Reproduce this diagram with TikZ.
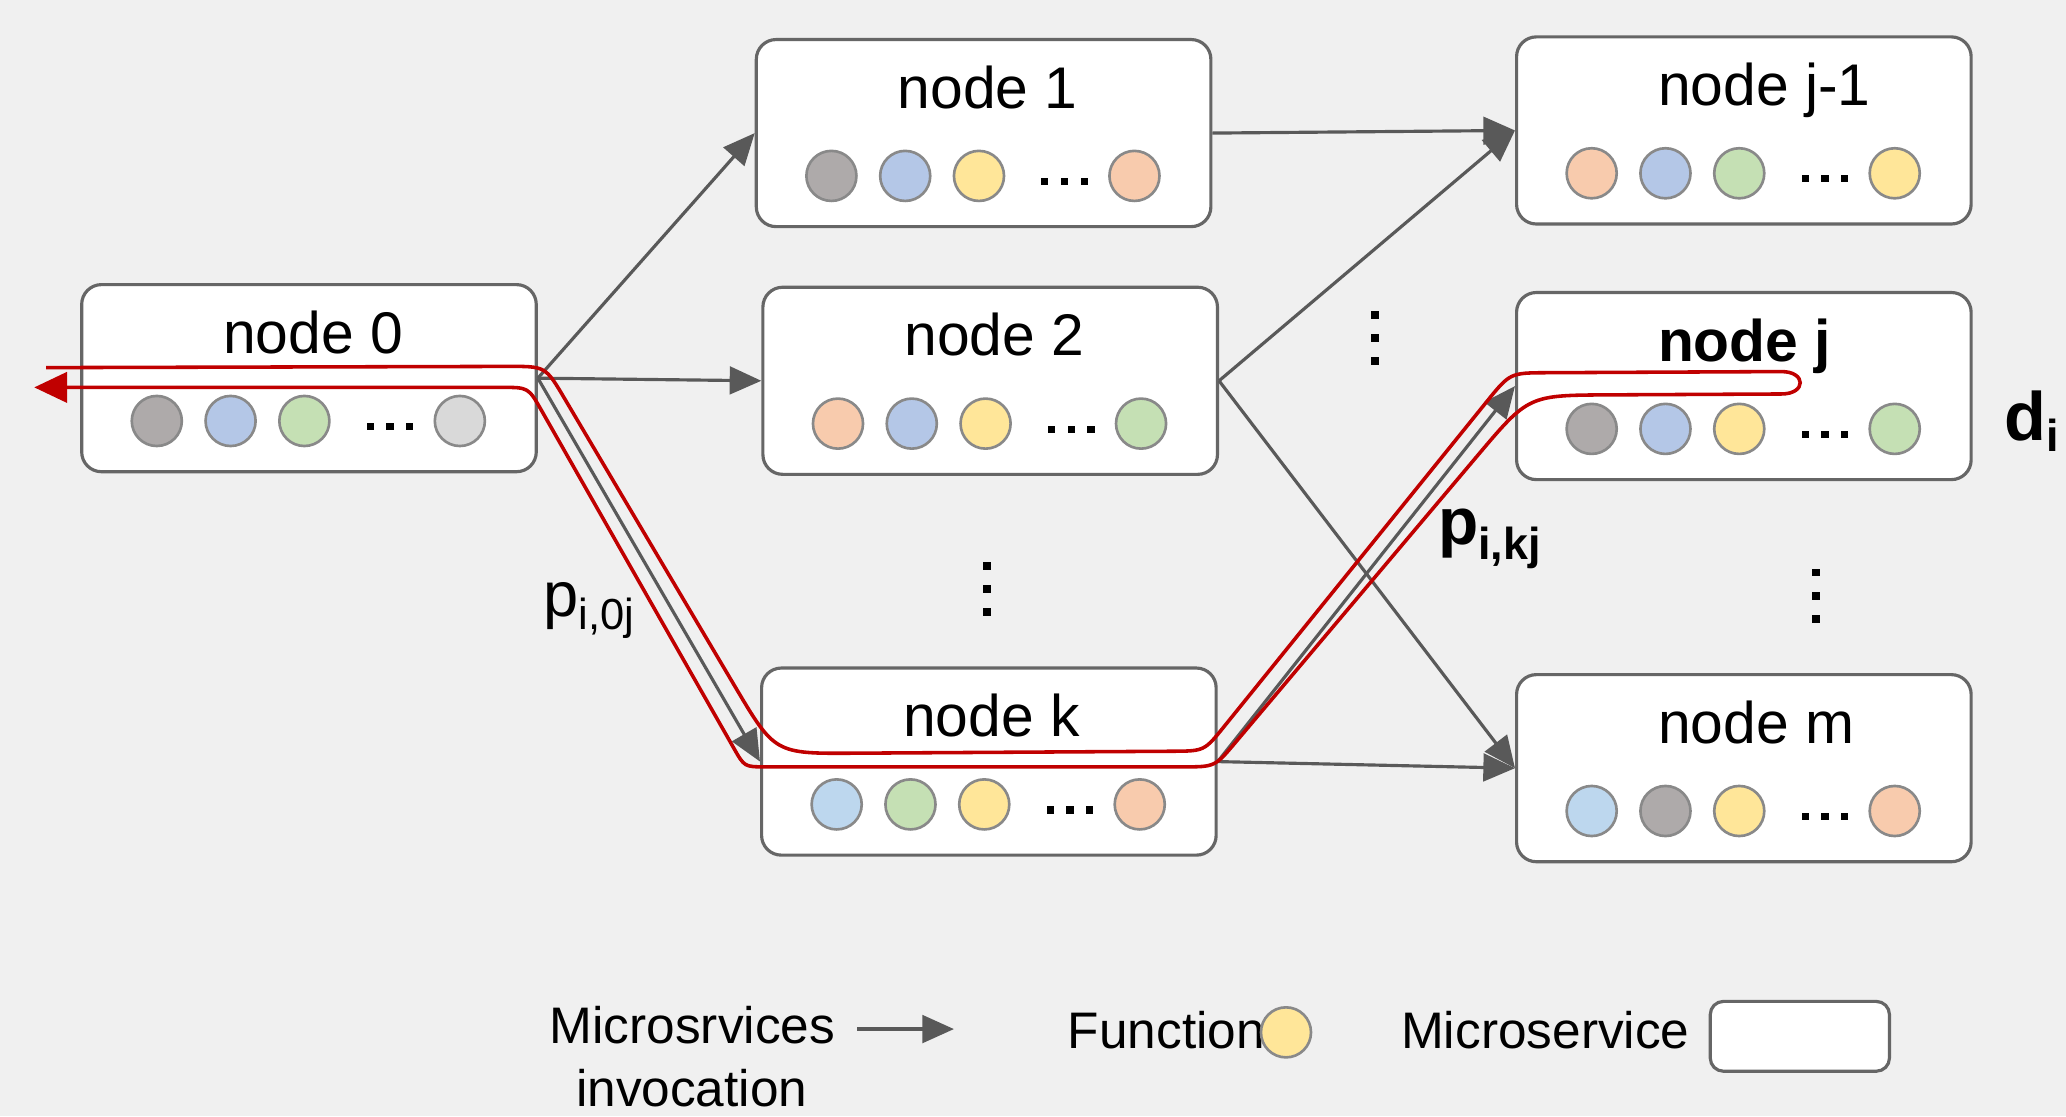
\documentclass[tikz,border=0pt]{standalone}
\usepackage{fontspec}
\setmainfont{Liberation Sans}
\usepackage{graphicx}
\usetikzlibrary{arrows.meta,calc}

\definecolor{bg}{HTML}{F0F0F0}
\definecolor{boxgray}{HTML}{666666}
\definecolor{arrowgray}{HTML}{595959}
\definecolor{fnborder}{HTML}{898989}
\definecolor{pathred}{HTML}{C00000}
\definecolor{fgray}{HTML}{AEAAAA}
\definecolor{flight}{HTML}{D9D9D9}
\definecolor{fblue}{HTML}{B4C7E7}
\definecolor{fsky}{HTML}{BDD7EE}
\definecolor{fgreen}{HTML}{C5E0B4}
\definecolor{fyellow}{HTML}{FFE699}
\definecolor{forange}{HTML}{F8CBAD}

\tikzset{
  msbox/.style={draw=boxgray, line width=1.2pt, fill=white, rounded corners=7.5pt,
    minimum width=172.5pt, minimum height=71pt, inner sep=0pt},
  fn/.style={circle, draw=fnborder, line width=1pt, minimum size=19pt, inner sep=0pt},
  ttl/.style={font=\fontsize{22.3}{27}\selectfont, inner sep=0pt, anchor=base west},
  flow/.style={draw=arrowgray, line width=1.2pt, -{Triangle[length=12pt,width=10.5pt]}},
  redline/.style={draw=pathred, line width=1.35pt, -{Triangle[length=12.5pt,width=11.5pt]}},
  legtxt/.style={font=\fontsize{19.5}{23}\selectfont, inner sep=0pt},
  lbl/.style={inner sep=0pt, anchor=base west},
}

% one microservice: name, left, top, title, four function colours
\newcommand\msnode[8]{%
  \begin{scope}[shift={(#2,#3)}]
    \node[msbox] (#1) at (172.5,71) {};
    \node[ttl] (#1-t) at (107,52) {#4};
    \node[fn,fill=#5] (#1-a) at (57,103.5) {};
    \node[fn,fill=#6] (#1-b) at (113,103.5) {};
    \node[fn,fill=#7] (#1-c) at (169,103.5) {};
    \node[fn,fill=#8] (#1-d) at (287,103.5) {};
    \foreach \dx in {219,234,249} \fill (\dx-2.75,105) rectangle ++(5.5,5.5);
  \end{scope}}

% vertical ellipsis made of three square dots
\newcommand\vdotsat[2]{%
  \foreach \dy in {-17.5,0,17.5} \fill (#1-3,#2+\dy-3) rectangle ++(6,6);}

\begin{document}
\begin{tikzpicture}[x=0.5pt, y=-0.5pt]
  \useasboundingbox (0,0) rectangle (1568,847);
  \fill[bg] (0,0) rectangle (1568,847);

  % microservices
  \msnode{n0}{62}{216}{node 0}{fgray}{fblue}{fgreen}{flight}
  \msnode{n1}{574}{30}{node 1}{fgray}{fblue}{fyellow}{forange}
  \msnode{n2}{579}{218}{node 2}{forange}{fblue}{fyellow}{fgreen}
  \msnode{nk}{578}{507}{node k}{fsky}{fgreen}{fyellow}{forange}
  \msnode{nj1}{1151}{28}{node j-1}{forange}{fblue}{fgreen}{fyellow}
  \msnode{nj}{1151}{222}{\bfseries node j}{fgray}{fblue}{fyellow}{fgreen}
  \msnode{nm}{1151}{512}{node m}{fsky}{fgray}{fyellow}{forange}

  % omitted microservices
  \vdotsat{1043.6}{256.5}
  \vdotsat{749}{447}
  \vdotsat{1378}{452}

  % invocations
  \draw[flow] (n0.east) -- (n1.west);
  \draw[flow] (n0.east) -- (n2.west);
  \draw[flow] (n0.east) -- (nk.west);
  \draw[flow] (n1.east) -- (nj1.west);
  \draw[flow] (n2.east) -- (nj1.west);
  \draw[flow] (n2.east) -- (nm.west);
  \draw[flow] (nk.east) -- (nj.west);
  \draw[flow] (nk.east) -- (nm.west);

  % request path out to node j and back
  \coordinate (r0) at (35,279);
  \coordinate (r1) at (414,278);
  \coordinate (r2) at (588,572);
  \coordinate (r3) at (914,570);
  \coordinate (r4) at (1146,283);
  \coordinate (r5) at (1352,282);
  \coordinate (r6) at (1352,299);
  \coordinate (r7) at (1160,300);
  \coordinate (r8) at (922,582);
  \coordinate (r9) at (565,582);
  \coordinate (r10) at (401,294);
  \coordinate (r11) at (26,294);
  \draw[redline] (r0)
    -- ($(r1)!14pt!(r0)$) .. controls (r1) .. ($(r1)!14pt!(r2)$)
    -- ($(r2)!30pt!(r1)$) .. controls (r2) .. ($(r2)!30pt!(r3)$)
    -- ($(r3)!12pt!(r2)$) .. controls (r3) .. ($(r3)!12pt!(r4)$)
    -- ($(r4)!14pt!(r3)$) .. controls (r4) .. ($(r4)!14pt!(r5)$)
    -- (r5) .. controls +(19,0) and +(19,0) .. (r6)
    -- ($(r7)!30pt!(r6)$) .. controls (r7) .. ($(r7)!30pt!(r8)$)
    -- ($(r8)!12pt!(r7)$) .. controls (r8) .. ($(r8)!12pt!(r9)$)
    -- ($(r9)!8pt!(r8)$) .. controls (r9) .. ($(r9)!8pt!(r10)$)
    -- ($(r10)!10pt!(r9)$) .. controls (r10) .. ($(r10)!10pt!(r11)$)
    -- (r11);

  % labels
  \node[lbl] (p0j) at (412,468)
    {\fontsize{24}{28}\selectfont p\raisebox{-5pt}{\fontsize{16.5}{18}\selectfont i,0j}};
  \node[lbl] (pkj) at (1091,413.6)
    {\bfseries\fontsize{25}{28}\selectfont p\raisebox{-5.7pt}{\fontsize{17}{18}\selectfont i,kj}};
  \node[lbl] (di) at (1521,334)
    {\bfseries\fontsize{26}{28}\selectfont d\raisebox{-4.4pt}{\fontsize{17}{18}\selectfont i}};

  % legend
  \node[legtxt, anchor=base] (leginv1) at (525.5,791.6) {Microsrvices};
  \node[legtxt, anchor=base] (leginv2) at (525,839.4) {invocation};
  \coordinate (la1) at (650.5,781);
  \coordinate (la2) at (724,781);
  \draw[flow] (la1) -- (la2);
  \node[legtxt, anchor=base west] (legfntxt) at (810,795.5) {Function};
  \node[fn, fill=fyellow] (legfn) at (976,783.5) {};
  \node[legtxt, anchor=base west] (legmstxt) at (1063,796) {Microservice};
  \node[msbox, minimum width=68pt, minimum height=26.5pt, rounded corners=5pt] (legbox) at (1366,786.5) {};
\end{tikzpicture}
\end{document}
